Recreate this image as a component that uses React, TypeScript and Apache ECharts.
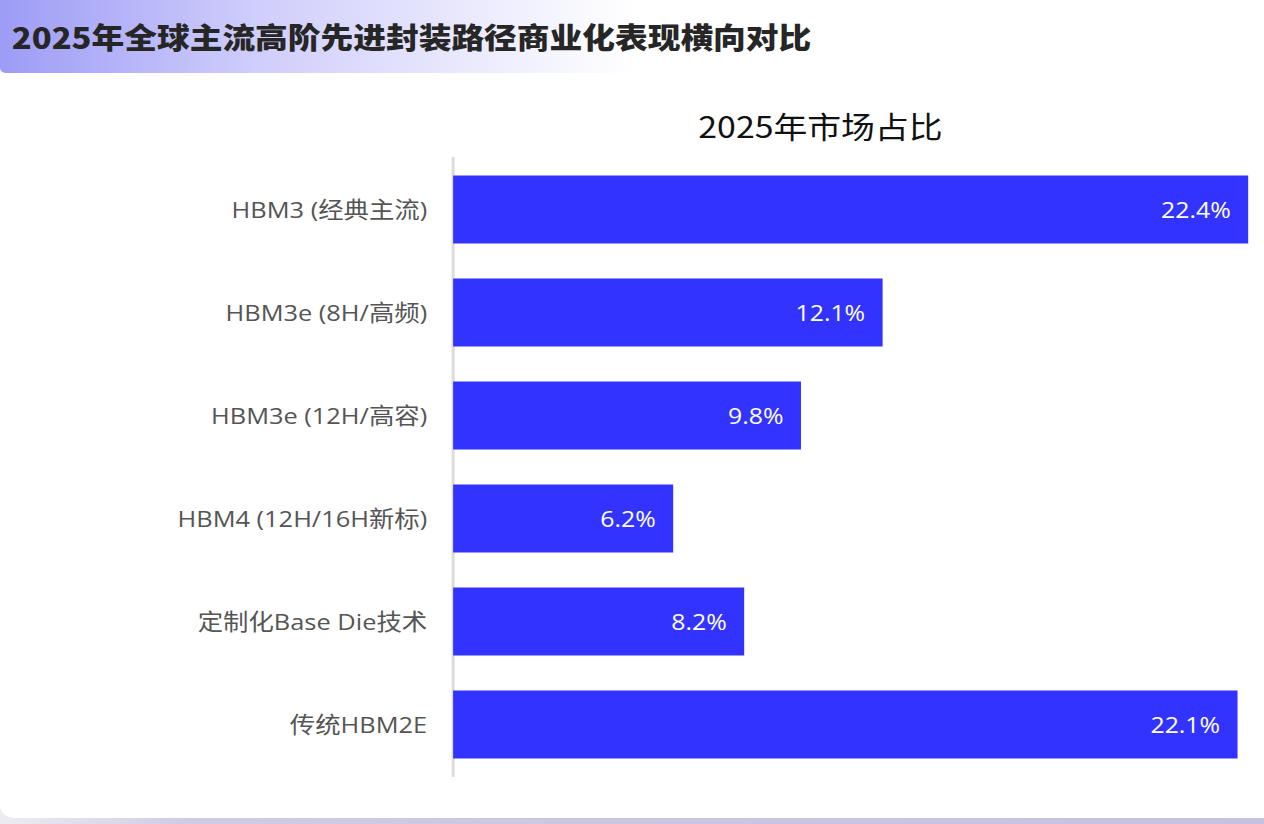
import React, { useEffect, useRef } from "react";
import * as echarts from "echarts";

const pageTitle = "2025年全球主流高阶先进封装路径商业化表现横向对比";
const chartTitle = "2025年市场占比";
const categories = [
  "HBM3 (经典主流)",
  "HBM3e (8H/高频)",
  "HBM3e (12H/高容)",
  "HBM4 (12H/16H新标)",
  "定制化Base Die技术",
  "传统HBM2E",
];
const shares = [22.4, 12.1, 9.8, 6.2, 8.2, 22.1];

const CJK_FONT = '"Noto Sans CJK SC", sans-serif';
const TEXT_FONT = '"Open Sans", "Noto Sans CJK SC", sans-serif';

// The chart is laid out on a narrower canvas and widened to the page with a
// horizontal scale, which gives its lettering the broad proportions it has.
const PAGE_W = 1264;
const PAGE_H = 824;
const CANVAS_W = 1120;
const STRETCH = PAGE_W / CANVAS_W;

export default function App() {
  const ref = useRef<HTMLDivElement>(null);

  useEffect(() => {
    if (!ref.current) return;
    const chart = echarts.init(ref.current, undefined, { renderer: "svg" });
    chart.setOption({
      animation: false,
      backgroundColor: "#ffffff",
      textStyle: { fontFamily: TEXT_FONT },
      graphic: [
        {
          type: "rect",
          z: -10,
          shape: { x: 0, y: 806, width: CANVAS_W, height: 18 },
          style: {
            fill: new echarts.graphic.LinearGradient(0, 0, 1, 0, [
              { offset: 0, color: "#ececf2" },
              { offset: 0.15, color: "#cfcbe4" },
              { offset: 1, color: "#c6c1dd" },
            ]),
          },
        },
        {
          type: "rect",
          z: -9,
          shape: { x: 0, y: 60, width: CANVAS_W + 30, height: 758, r: 13 },
          style: { fill: "#ffffff" },
        },
        {
          type: "rect",
          z: -8,
          shape: { x: 0, y: 0, width: CANVAS_W, height: 73, r: [0, 0, 0, 5] },
          style: {
            fill: new echarts.graphic.LinearGradient(0, 0, 1, 0, [
              { offset: 0, color: "#9d9cf6" },
              { offset: 0.2, color: "#cfcdfb" },
              { offset: 0.5, color: "#ffffff" },
              { offset: 1, color: "#ffffff" },
            ]),
          },
        },
        {
          type: "text",
          x: 10.5,
          y: 36,
          style: {
            text: pageTitle,
            fontFamily: CJK_FONT,
            fontSize: 29,
            fontWeight: 900,
            fill: "#262626",
            verticalAlign: "middle",
          },
        },
        {
          type: "text",
          x: 727,
          y: 125,
          style: {
            text: chartTitle,
            fontFamily: CJK_FONT,
            fontSize: 30,
            fontWeight: 400,
            fill: "#111111",
            align: "center",
            verticalAlign: "middle",
          },
        },
      ],
      grid: { left: 401.5, right: 14, top: 158, bottom: 48, containLabel: false },
      xAxis: {
        type: "value",
        min: 0,
        max: (v: { max: number }) => v.max,
        show: false,
        splitLine: { show: false },
      },
      yAxis: {
        type: "category",
        data: categories,
        inverse: true,
        axisLine: { show: true, lineStyle: { color: "#dcdcdc", width: 2.7 } },
        axisTick: { show: false },
        axisLabel: {
          fontFamily: TEXT_FONT,
          fontSize: 22.5,
          color: "#555555",
          margin: 23,
        },
      },
      series: [
        {
          type: "bar",
          data: shares,
          barWidth: 68,
          itemStyle: { color: "#3333ff" },
          label: {
            show: true,
            position: "insideRight",
            distance: 15.5,
            fontFamily: TEXT_FONT,
            fontSize: 22,
            color: "#ffffff",
            formatter: (p: { value: number }) => `${p.value.toFixed(1)}%`,
          },
        },
      ],
    });
    return () => chart.dispose();
  }, []);

  return (
    <div style={{ position: "absolute", left: 0, top: 0, width: PAGE_W, height: PAGE_H, overflow: "hidden" }}>
      <div
        ref={ref}
        style={{
          width: CANVAS_W,
          height: PAGE_H,
          transform: `scaleX(${STRETCH})`,
          transformOrigin: "0 0",
        }}
      />
    </div>
  );
}
